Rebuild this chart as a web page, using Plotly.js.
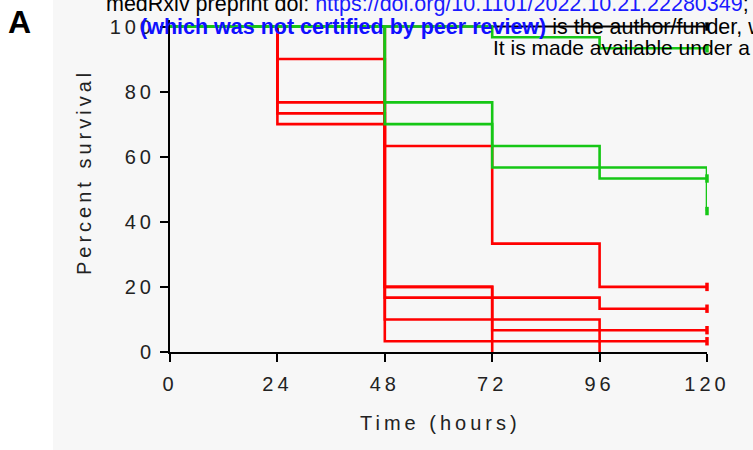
<!DOCTYPE html>
<html>
<head>
<meta charset="utf-8">
<script src="https://cdn.plot.ly/plotly-3.0.1.min.js"></script>
<style>
  html, body { margin: 0; padding: 0; background: #fff; }
  #chart { width: 753px; height: 450px; }
  .xtick text, .ytick text { letter-spacing: 4px; }
  .annotation[data-index="0"] text, .annotation[data-index="1"] text { letter-spacing: 4px; }
</style>
</head>
<body>
<div id="chart"></div>
<script>
// ---- data ----
const redTimes = [
  [0, 48, 72, 96, 120],
  [0, 48, 72],
  [0, 24, 48, 72, 120],
  [0, 24, 48, 96, 120],
  [0, 24, 48, 96],
  [0, 24, 48, 120]
];
const redSurvival = [
  [100, 63.3, 33.3, 20, 20],
  [100, 20, 0],
  [100, 90, 20, 6.7, 6.7],
  [100, 76.7, 16.7, 13.3, 13.3],
  [100, 73.3, 10, 0],
  [100, 70, 3.3, 3.3]
];
const greenTimes = [
  [0, 48, 72, 120],
  [0, 48, 72, 96, 120],
  [0, 72, 96, 120]
];
const greenSurvival = [
  [100, 70, 56.7, 43.3],
  [100, 76.7, 63.3, 53.3, 53.3],
  [100, 96.7, 93.3, 93.3]
];
const blackTimes = [0, 120];
const blackSurvival = [100, 100];
const censorTime = 120;
const redCensored = [20, 13.3, 6.7, 3.3];
const greenCensored = [93.3, 53.3, 43.3];
const blackCensored = [100];
const xTicks = [0, 24, 48, 72, 96, 120];
const yTicks = [0, 20, 40, 60, 80, 100];
const xTitle = 'Time (hours)';
const yTitle = 'Percent survival';

// ---- layout geometry ----
const W = 753, H = 450;
const L = 170, R = 46, T = 20, B = 98;
const PW = W - L - R, PH = H - T - B;
const px = v => (v - L) / PW;
const py = v => (T + PH - v) / PH;

const RED = '#ff0000', GREEN = '#16c716', BLACK = '#000000';

const traces = [];
traces.push({x: blackTimes, y: blackSurvival, type: 'scatter', mode: 'lines',
  line: {color: BLACK, width: 2, shape: 'hv'}, cliponaxis: false, hoverinfo: 'skip'});
redTimes.forEach((t, i) => traces.push({x: t, y: redSurvival[i], type: 'scatter', mode: 'lines',
  line: {color: RED, width: 2.6, shape: 'hv'}, cliponaxis: false, hoverinfo: 'skip'}));
greenTimes.forEach((t, i) => traces.push({x: t, y: greenSurvival[i], type: 'scatter', mode: 'lines',
  line: {color: GREEN, width: 2.6, shape: 'hv'}, cliponaxis: false, hoverinfo: 'skip'}));
function censor(vals, color) {
  return {x: vals.map(() => censorTime), y: vals, type: 'scatter', mode: 'markers', cliponaxis: false,
    marker: {symbol: 'line-ns', size: 6, line: {color: color, width: 3.5}}, hoverinfo: 'skip'};
}
traces.push(censor(blackCensored, BLACK));
traces.push(censor(redCensored, RED));
traces.push(censor(greenCensored, GREEN));

const tickFont = {family: 'Liberation Sans, Arial, sans-serif', size: 20, color: '#222'};
const hdrFont = (s) => ({family: 'Liberation Sans, Arial, sans-serif', size: s, color: '#000'});

const layout = {
  width: W, height: H,
  margin: {l: L, r: R, t: T, b: B, pad: 0},
  paper_bgcolor: '#ffffff',
  plot_bgcolor: 'rgba(0,0,0,0)',
  showlegend: false,
  xaxis: {
    range: [0, 120], tickvals: xTicks, ticktext: xTicks.map(String),
    showgrid: false, zeroline: false, showline: true, linecolor: '#000', linewidth: 2,
    ticks: 'outside', ticklen: 8, tickwidth: 2, tickcolor: '#000', ticklabelstandoff: 5,
    tickfont: tickFont, fixedrange: true
  },
  yaxis: {
    range: [0, 102], tickvals: yTicks, ticktext: yTicks.map(String),
    showgrid: false, zeroline: false, showline: true, linecolor: '#000', linewidth: 2,
    ticks: 'outside', ticklen: 8, tickwidth: 2, tickcolor: '#000', ticklabelstandoff: 1,
    tickfont: tickFont, fixedrange: true
  },
  shapes: [{
    type: 'rect', xref: 'paper', yref: 'paper', layer: 'below',
    x0: px(53), x1: px(760), y0: py(455), y1: py(-5),
    fillcolor: '#f7f7f7', line: {width: 0}
  }],
  annotations: [
    {text: xTitle, xref: 'paper', yref: 'paper', x: px(440), y: py(423), xanchor: 'center', yanchor: 'middle',
     showarrow: false, font: {family: 'Liberation Sans, Arial, sans-serif', size: 20, color: '#222'}},
    {text: yTitle, xref: 'paper', yref: 'paper', x: px(84), y: py(172), xanchor: 'center', yanchor: 'middle',
     textangle: -90, showarrow: false, font: {family: 'Liberation Sans, Arial, sans-serif', size: 20, color: '#222'}},
    {text: '<b>A</b>', xref: 'paper', yref: 'paper', x: px(6), y: py(22), xanchor: 'left', yanchor: 'middle',
     showarrow: false, font: {family: 'Liberation Sans, Arial, sans-serif', size: 32, color: '#000'}},
    {text: 'medRxiv preprint doi: <span style="color:#1a1aff">https://doi.org/10.1101/2022.10.21.22280349</span>; this version posted October 24, 2022.',
     xref: 'paper', yref: 'paper', x: px(104), y: py(4), xanchor: 'left', yanchor: 'middle',
     showarrow: false, font: hdrFont(21.5)},
    {text: '<span style="color:#1010ff"><b>(which was not certified by peer review)</b></span> is the author/funder, who has granted medRxiv a license to display the preprint in perpetuity.',
     xref: 'paper', yref: 'paper', x: px(138), y: py(27), xanchor: 'left', yanchor: 'middle',
     showarrow: false, font: hdrFont(21.5)},
    {text: 'It is made available under a CC-BY-NC-ND 4.0 International license .',
     xref: 'paper', yref: 'paper', x: px(491), y: py(47), xanchor: 'left', yanchor: 'middle',
     showarrow: false, font: hdrFont(21)}
  ]
};

Plotly.newPlot('chart', traces, layout, {staticPlot: true, displayModeBar: false});
</script>
</body>
</html>
